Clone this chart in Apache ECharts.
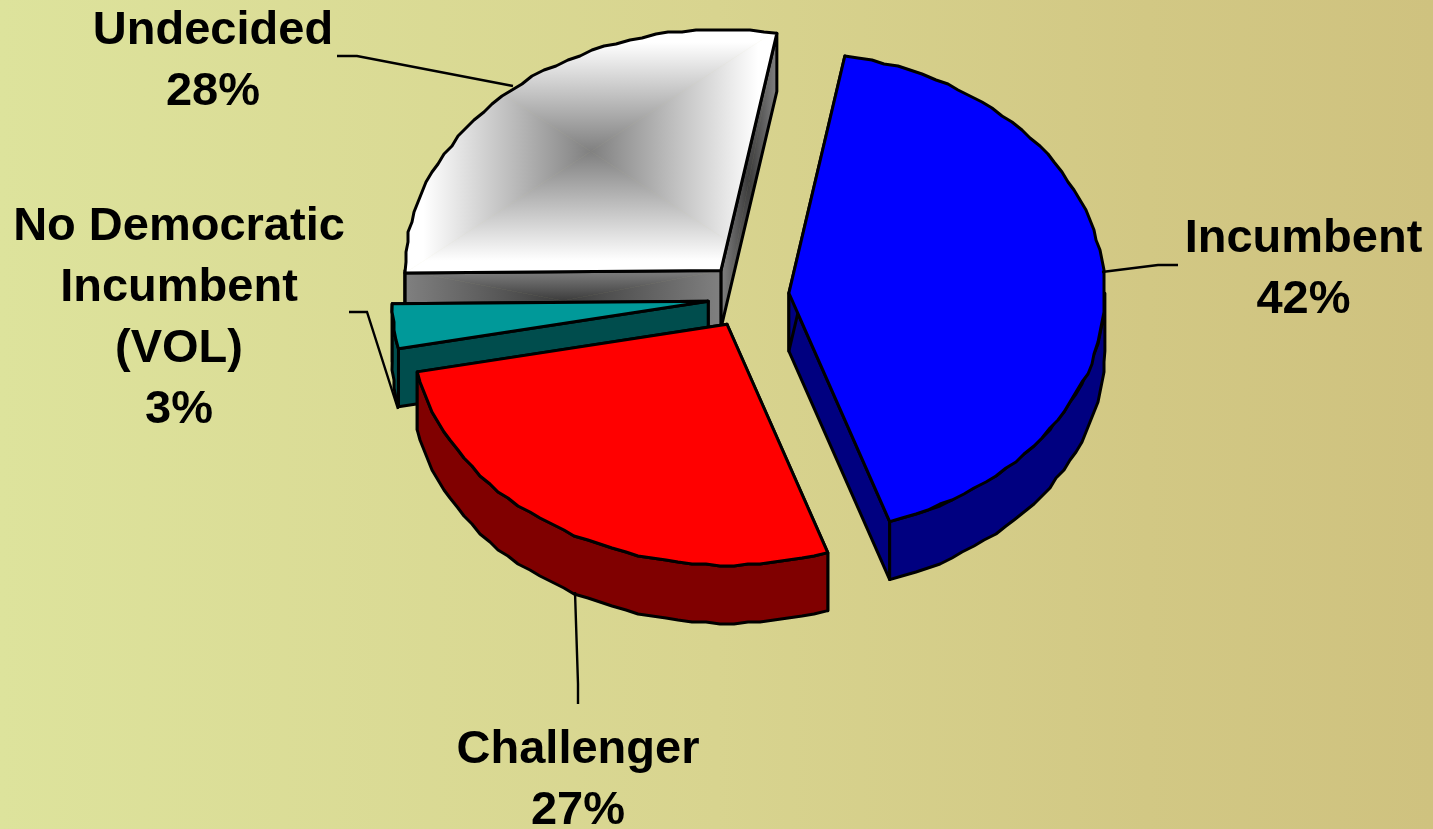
<!DOCTYPE html>
<html>
<head>
<meta charset="utf-8">
<style>html,body{margin:0;padding:0;width:100%;height:100%;overflow:hidden}#chart{width:1433px;height:829px}</style>
<script src="https://cdn.jsdelivr.net/npm/echarts@6/dist/echarts.min.js"></script>
</head>
<body>
<div id="chart"></div>
<script>
// ---- data ----
const categories = ['Incumbent', 'Challenger', 'No Democratic\nIncumbent\n(VOL)', 'Undecided'];
const shares = [42, 27, 3, 28];

// ---- styles ----
const topColors = ['#0000ff', '#ff0000', '#009999', null];
const wallColors = ['#000080', '#800000', '#004d4d', null];

// ---- layout ----
const pieCx = 748, pieCy = 295;
const radiusX = 316, radiusY = 241, depth = 58;
const startAngle = 10.2;
const explode = [41, 42, 40, 42];
const nudgeY = [0.5, 1.5, 3, 0];
const labelAnchors = [[1303.5, 270], [578, 781], [179, 319], [213, 62]];
const leaderPaths = [
  [[1178, 265], [1158, 265], [1102, 272]],
  [[578, 704], [578, 684], [575, 592]],
  [[349, 312], [367, 312], [398, 409]],
  [[337, 56], [357, 56], [513, 86]]
];
const arcStepDeg = 2.5, edgeGrid = 2;   // the source outline is a slightly stepped polygon

const total = shares.reduce((a, b) => a + b, 0);
const rad = d => d * Math.PI / 180;
let cum = startAngle;
const slices = shares.map((v, i) => {
  const a0 = cum, a1 = cum + v / total * 360;
  cum = a1;
  const m = rad((a0 + a1) / 2);
  const cx = pieCx + explode[i] * Math.sin(m);
  const cy = pieCy - explode[i] * Math.cos(m) * radiusY / radiusX + nudgeY[i];
  return { a0, a1, cx, cy };
});
const rim = (s, a, dy) => [s.cx + radiusX * Math.sin(rad(a)), s.cy - radiusY * Math.cos(rad(a)) + (dy || 0)];
function arcPts(s, a, b, dy) {
  const pts = [], n = Math.max(1, Math.ceil(Math.abs(b - a) / arcStepDeg));
  for (let k = 0; k <= n; k++) {
    const p = rim(s, a + (b - a) * k / n);
    const snap = k === 0 || k === n ? p : [Math.round(p[0] / edgeGrid) * edgeGrid, Math.round(p[1] / edgeGrid) * edgeGrid];
    pts.push([snap[0], snap[1] + (dy || 0)]);
  }
  return pts;
}
const outline = { stroke: '#000', lineWidth: 3, lineJoin: 'round' };

function boxGradient(points, outer, inner, hold) {
  const xs = points.map(p => p[0]), ys = points.map(p => p[1]);
  const x0 = Math.min(...xs), x1 = Math.max(...xs), y0 = Math.min(...ys), y1 = Math.max(...ys);
  const mx = (x0 + x1) / 2, my = (y0 + y1) / 2;
  const grad = (ax, ay, bx, by) => ({
    type: 'linear', global: true, x: ax, y: ay, x2: bx, y2: by,
    colorStops: [{ offset: 0, color: outer }, { offset: hold, color: outer }, { offset: 1, color: inner }]
  });
  const tri = (p, q, fill) => ({ type: 'polygon', shape: { points: [p, q, [mx, my]] }, style: { fill, stroke: fill, lineWidth: 0.6 } });
  const c = [[x0, y0], [x1, y0], [x1, y1], [x0, y1]];
  return [{
    type: 'group',
    clipPath: { type: 'polygon', shape: { points } },
    children: [
      tri(c[0], c[1], grad(mx, y0, mx, my)),
      tri(c[1], c[2], grad(x1, my, mx, my)),
      tri(c[2], c[3], grad(mx, y1, mx, my)),
      tri(c[3], c[0], grad(x0, my, mx, my))
    ]
  }, { type: 'polygon', shape: { points }, style: Object.assign({ fill: 'none' }, outline) }];
}
function face(points, fill) {
  return { type: 'polygon', shape: { points }, style: Object.assign({ fill }, outline) };
}
function wall(points, i) {
  return wallColors[i] ? [face(points, wallColors[i])] : boxGradient(points, '#808080', '#3c3c3c', 0);
}

function renderSlice(params, api) {
  const i = api.value(0), s = slices[i];
  const apex = [s.cx, s.cy];
  const children = [];
  const pS = rim(s, s.a0), pE = rim(s, s.a1);
  children.push(...wall([apex, pE, rim(s, s.a1, depth), [s.cx, s.cy + depth]], i));
  children.push(...wall([apex, pS, rim(s, s.a0, depth), [s.cx, s.cy + depth]], i));
  const from = Math.max(s.a0, 90), to = Math.min(s.a1, 270);
  if (to > from) {
    const arcTop = arcPts(s, from, to), arcBot = arcPts(s, to, from, depth);
    children.push(...wall(arcTop.concat(arcBot), i));
  }
  const top = [apex].concat(arcPts(s, s.a0, s.a1));
  if (topColors[i]) children.push(face(top, topColors[i]));
  else children.push(...boxGradient(top, '#ffffff', '#808080', 0.1));
  return { type: 'group', children };
}

function renderLabel(params, api) {
  const i = api.value(0), a = labelAnchors[i];
  return {
    type: 'group',
    children: [
      { type: 'polyline', shape: { points: leaderPaths[i] }, style: { fill: 'none', stroke: '#000', lineWidth: 2.4 } },
      {
        type: 'text', x: a[0], y: a[1],
        style: {
          text: categories[i] + '\n' + shares[i] + '%',
          fill: '#000', align: 'center', verticalAlign: 'middle',
          font: 'bold 47px "Liberation Sans", Arial, sans-serif', lineHeight: 61
        }
      }
    ]
  };
}

const drawOrder = [3, 2, 1, 0];
const chart = echarts.init(document.getElementById('chart'), null, { renderer: 'canvas' });
chart.setOption({
  animation: false,
  backgroundColor: {
    type: 'linear', x: 0, y: 0, x2: 1, y2: 0,
    colorStops: [
      { offset: 0, color: '#dde39c' },
      { offset: 0.5, color: '#d8d48f' },
      { offset: 0.8, color: '#d2c884' },
      { offset: 1, color: '#cfc27f' }
    ]
  },
  series: [
    { type: 'custom', coordinateSystem: 'none', silent: true, z: 2, data: drawOrder.map(i => [i]), encode: { value: 0 }, renderItem: renderSlice },
    { type: 'custom', coordinateSystem: 'none', silent: true, z: 3, data: categories.map((c, i) => [i]), encode: { value: 0 }, renderItem: renderLabel }
  ]
});
</script>
</body>
</html>
